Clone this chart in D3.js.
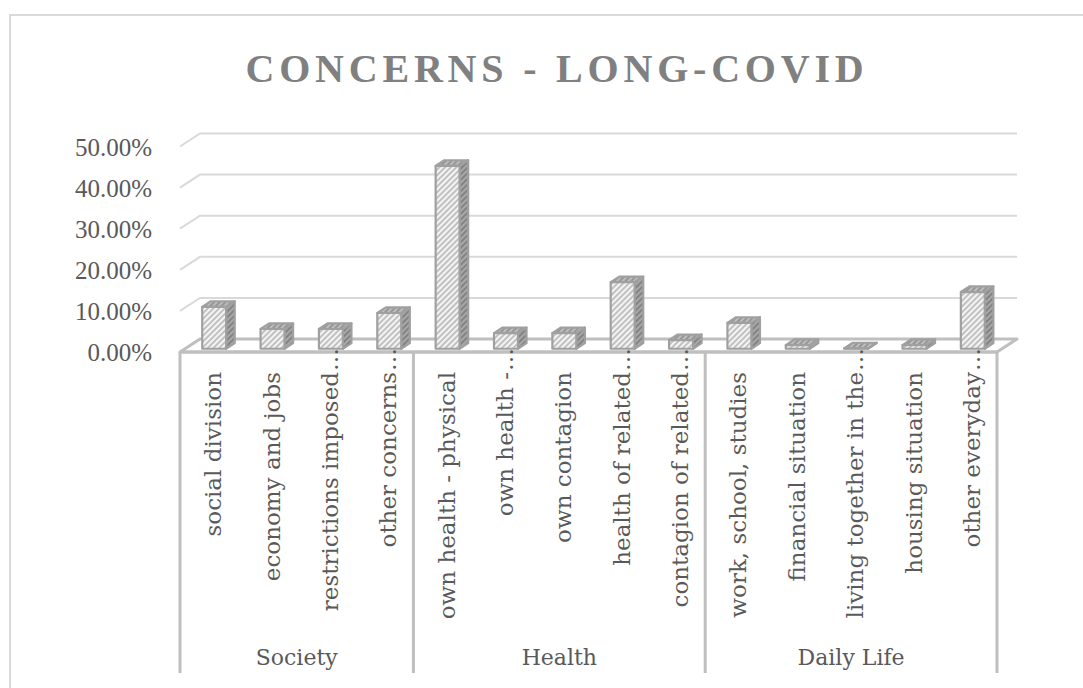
<!DOCTYPE html>
<html>
<head>
<meta charset="utf-8">
<script src="https://cdn.jsdelivr.net/npm/d3@7/dist/d3.min.js"></script>
<style>
  html, body { margin: 0; padding: 0; background: #ffffff; }
  svg { display: block; }
</style>
</head>
<body>
<svg id="chart" width="1083" height="688"></svg>
<script>
// Share of respondents naming each concern about long-COVID
const categories = [
  "social division", "economy and jobs", "restrictions imposed…", "other concerns…",
  "own health - physical", "own health -…", "own contagion", "health of related…", "contagion of related…",
  "work, school, studies", "financial situation", "living together in the…", "housing situation", "other everyday…"
];
const values = [0.102, 0.048, 0.048, 0.087, 0.445, 0.038, 0.038, 0.162, 0.021, 0.063, 0.009, 0.001, 0.009, 0.138];
const groups = ["Society", "Health", "Daily Life"];
const groupSizes = [4, 5, 5];
const yTicks = [0, 0.1, 0.2, 0.3, 0.4, 0.5];
const titleText = "CONCERNS - LONG-COVID";

const svg = d3.select("#chart");

// oblique 3D: the back wall sits DX right and DY up of the front plane
const DX = 20, DY = -13;
const BAR_FRONT = 0.25, BAR_BACK = 0.68;   // bar depth as a share of the floor depth
const BAR_WIDTH = 0.41;                    // bar width as a share of a category slot

const x = d3.scaleBand().domain(categories).range([180, 997]).padding(0);
const y = d3.scaleLinear().domain([0, 0.5]).range([352, 146.5]);
const proj = (px, py, f) => [px + f * DX, py + f * DY];

// outer chart-area frame
svg.append("rect")
  .attr("x", 10).attr("y", 15).attr("width", 1090).attr("height", 700)
  .attr("fill", "#ffffff").attr("stroke", "#d9d9d9").attr("stroke-width", 2);

// title
svg.append("text")
  .attr("x", 557).attr("y", 82)
  .attr("text-anchor", "middle")
  .attr("font-family", "'Liberation Serif', serif")
  .attr("font-weight", "bold")
  .attr("font-size", 40)
  .attr("letter-spacing", 4.8)
  .attr("fill", "#808080")
  .text(titleText);

// hatch patterns for the bar faces
const defs = svg.append("defs");
function hatch(id, bg, fg, w) {
  const p = defs.append("pattern")
    .attr("id", id).attr("patternUnits", "userSpaceOnUse")
    .attr("width", 4).attr("height", 4)
    .attr("patternTransform", "rotate(45)");
  p.append("rect").attr("width", 4).attr("height", 4).attr("fill", bg);
  p.append("line").attr("x1", 1).attr("y1", 0).attr("x2", 1).attr("y2", 4)
    .attr("stroke", fg).attr("stroke-width", w);
}
hatch("hatchFront", "#f4f4f4", "#b4b4b4", 1.6);
hatch("hatchTop", "#bdbdbd", "#8c8c8c", 1.6);
hatch("hatchSide", "#a8a8a8", "#7a7a7a", 1.6);

// back-wall gridlines with their slanted lead-ins on the left
const x0 = x.range()[0], x1 = x.range()[1];
const grid = svg.append("g").attr("stroke", "#d9d9d9").attr("stroke-width", 2).attr("fill", "none");
yTicks.filter(t => t > 0).forEach(t => {
  const a = proj(x0, y(t), 0), b = proj(x0, y(t), 1), c = proj(x1, y(t), 1);
  grid.append("polyline").attr("points", [a, b, c].map(p => p.join(",")).join(" "));
});

// floor outline
const floor = [proj(x0, y(0), 0), proj(x0, y(0), 1), proj(x1, y(0), 1), proj(x1, y(0), 0)];
svg.append("polygon")
  .attr("points", floor.map(p => p.join(",")).join(" "))
  .attr("fill", "none").attr("stroke", "#bfbfbf").attr("stroke-width", 3)
  .attr("stroke-linejoin", "round");

// y-axis labels on the front plane
const yAxis = d3.axisLeft(y).tickValues(yTicks).tickFormat(d3.format(".2%")).tickSize(0).tickPadding(0);
const yg = svg.append("g").attr("transform", "translate(152,0)").call(yAxis);
yg.select(".domain").remove();
yg.selectAll("text")
  .attr("font-family", "'Liberation Serif', serif")
  .attr("font-size", 25)
  .attr("fill", "#595959")
  .attr("dy", "0.35em");

// bars: front face, side face and top face
const bars = svg.append("g").selectAll("g").data(categories).join("g");
bars.each(function (c, i) {
  const g = d3.select(this);
  const w = x.bandwidth() * BAR_WIDTH;
  const cx = x(c) + x.bandwidth() / 2;
  const l = cx - w / 2, r = cx + w / 2;
  const top = y(values[i]), base = y(0);
  const fl = proj(l, top, BAR_FRONT), fr = proj(r, top, BAR_FRONT);
  const flb = proj(l, base, BAR_FRONT), frb = proj(r, base, BAR_FRONT);
  const bl = proj(l, top, BAR_BACK), br = proj(r, top, BAR_BACK), brb = proj(r, base, BAR_BACK);
  const pts = arr => arr.map(p => p.join(",")).join(" ");
  const style = sel => sel.attr("stroke", "#a0a0a0").attr("stroke-width", 2.2).attr("stroke-linejoin", "round");
  style(g.append("polygon").attr("points", pts([fr, br, brb, frb])).attr("fill", "url(#hatchSide)"));
  style(g.append("polygon").attr("points", pts([fl, bl, br, fr])).attr("fill", "url(#hatchTop)"));
  style(g.append("polygon").attr("points", pts([fl, fr, frb, flb])).attr("fill", "url(#hatchFront)"));
});

// category table below the floor
const tableTop = y(0), tableBottom = 673;
const lineCol = "#bfbfbf";
const bounds = [0];
groupSizes.forEach((n, i) => bounds.push(bounds[i] + n));
const bx = k => k < categories.length ? x(categories[k]) : x1;
const table = svg.append("g").attr("stroke", lineCol).attr("stroke-width", 3);
table.append("line").attr("x1", x0).attr("x2", x1).attr("y1", tableTop).attr("y2", tableTop);
bounds.forEach(k => {
  table.append("line").attr("x1", bx(k)).attr("x2", bx(k)).attr("y1", tableTop).attr("y2", tableBottom);
});

// rotated category labels; truncated names keep their ellipsis above the text
const catFont = "'DejaVu Serif', serif";
const labels = svg.append("g");
categories.forEach(c => {
  const cx = x(c) + x.bandwidth() / 2 + 4;
  const trunc = c.endsWith("…");
  const body = trunc ? c.slice(0, -1) : c;
  labels.append("text")
    .attr("transform", `translate(${cx},372) rotate(-90)`)
    .attr("text-anchor", "end").attr("dy", "0.35em")
    .attr("font-family", catFont).attr("font-size", 23).attr("fill", "#595959")
    .text(body);
  if (trunc) {
    labels.append("text")
      .attr("transform", `translate(${cx},371) rotate(-90)`)
      .attr("text-anchor", "start").attr("dy", "0.35em")
      .attr("font-family", catFont).attr("font-size", 23).attr("fill", "#595959")
      .text("…");
  }
});

// group labels
groups.forEach((gname, i) => {
  const gx = (bx(bounds[i]) + bx(bounds[i + 1])) / 2;
  svg.append("text")
    .attr("x", gx).attr("y", 665)
    .attr("text-anchor", "middle")
    .attr("font-family", catFont).attr("font-size", 22).attr("fill", "#595959")
    .text(gname);
});
</script>
</body>
</html>
